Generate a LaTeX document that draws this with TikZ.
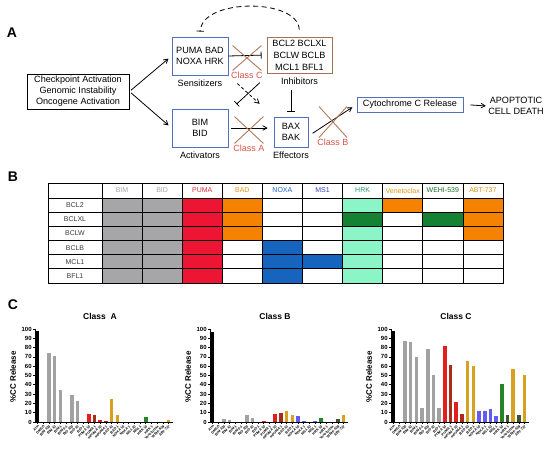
\documentclass[tikz,border=0pt]{standalone}
\usepackage{fontspec}
\setmainfont{Liberation Sans}
\usetikzlibrary{positioning}
\usetikzlibrary{arrows}
\usetikzlibrary{shapes.misc}

% %CC release values, one per treatment
\def\dataA{98,0,74,71,34,0,29,23,0,9,7,2,1,25,8,0,0,0,0,5,0,0,0,2}
\def\dataB{97,0,3,2,0,0,7,4,0,1.5,0,9,10,12,7,6,1,0,1,4,0,0,3,8}
\def\dataC{98,0,87,86,70,15,79,51,15,82,61,21,9,66,60,12,12,14,6,41,8,57,8,51}
\def\barcols{black,black,bargray,bargray,bargray,bargray,bargray,bargray,bargray,barred,bardred,barred,bardred,bargold,bargold,barblue,barblue,barblue,barblue,bargreen,barolive,bargold,barolive,bargold}
\def\barlabs{Alm,DMSO,BIM 100,BIM 10,BIM 1,BIM 0.1,BID 100,BID 10,BID 1,PUMA 10,PUMA 1,mPUMA 10,mPUMA 1,BAD 10,BAD 1,NOXA 10,NOXA 1,MS1 10,MS1 1,HRK 10,HRK 1,Venetoclax,WEHI-539,ABT-737}

\begin{document}
\begin{tikzpicture}[x=1pt,y=-1pt,>=angle 60,line width=0.8pt,
	box/.style={draw,line width=0.9pt,align=center,inner sep=0pt,
		font=\fontsize{9.1}{11}\selectfont},
	blue box/.style={box,draw=boxblue},
	lab/.style={font=\fontsize{9.1}{11}\selectfont},
	cls/.style={font=\fontsize{9}{10}\selectfont,text=classred,inner sep=1pt},
	xmark/.style={cross out,draw=crosscol,line width=0.9pt,inner sep=0pt,
		minimum width=28pt,minimum height=24pt},
	panel/.style={font=\fontsize{14}{14}\bfseries\selectfont},
	thead/.style={font=\fontsize{7}{8}\selectfont},
	trow/.style={font=\fontsize{7}{8}\selectfont,text=rowgray},
	ctitle/.style={font=\fontsize{8.5}{9}\bfseries\selectfont},
	ylab/.style={font=\fontsize{8}{9}\bfseries\selectfont,rotate=90},
	ytick/.style={font=\fontsize{6}{6}\bfseries\selectfont,anchor=east,inner sep=1pt},
	xtick/.style={font=\fontsize{3.5}{3.8}\bfseries\selectfont,anchor=north east,
		rotate=45,inner sep=0.3pt}]
	
	\definecolor{boxblue}{RGB}{84,112,188}
	\definecolor{boxbrown}{RGB}{162,112,86}
	\definecolor{crosscol}{RGB}{176,122,92}
	\definecolor{classred}{RGB}{214,82,72}
	\definecolor{tgray}{RGB}{166,166,168}
	\definecolor{tred}{RGB}{236,22,52}
	\definecolor{torange}{RGB}{245,130,0}
	\definecolor{tblue}{RGB}{22,100,190}
	\definecolor{tlgreen}{RGB}{140,245,200}
	\definecolor{tdgreen}{RGB}{20,130,50}
	\definecolor{rowgray}{RGB}{60,60,60}
	\definecolor{hgray}{RGB}{165,165,165}
	\definecolor{hred}{RGB}{220,40,60}
	\definecolor{horange}{RGB}{222,150,20}
	\definecolor{hblue}{RGB}{30,95,200}
	\definecolor{hblue2}{RGB}{55,65,180}
	\definecolor{hgreen}{RGB}{40,150,110}
	\definecolor{hdgreen}{RGB}{20,110,40}
	\definecolor{bargray}{RGB}{162,162,162}
	\definecolor{barred}{RGB}{226,30,30}
	\definecolor{bardred}{RGB}{168,45,25}
	\definecolor{bargold}{RGB}{216,160,32}
	\definecolor{barblue}{RGB}{100,92,240}
	\definecolor{bargreen}{RGB}{40,130,40}
	\definecolor{barolive}{RGB}{62,86,46}
	
	\useasboundingbox (0,0) rectangle (550,452);
	
	% A: pathway
	\node[panel] (pA) at (12,33) {A};
	\node[box, minimum width=102pt, minimum height=35pt] (chk) at (78,91.5)
		{Checkpoint Activation\\Genomic Instability\\Oncogene Activation};
	\node[blue box, minimum width=56pt, minimum height=38pt] (sens) at (200,56) {PUMA BAD\\NOXA HRK};
	\node[blue box, minimum width=56pt, minimum height=38pt] (act) at (200,128) {BIM\\BID};
	\node[box, draw=boxbrown, minimum width=65pt, minimum height=36pt,
		font=\fontsize{9.1}{12}\selectfont] (inh) at (299.5,55) {BCL2 BCLXL\\BCLW BCLB\\MCL1 BFL1};
	\node[blue box, minimum width=34pt, minimum height=30pt] (eff) at (291,132) {BAX\\BAK};
	\node[blue box, minimum width=106pt, minimum height=15pt] (cyt) at (410,104.5) {Cytochrome C Release};
	\node[lab, align=center, inner sep=1pt] (apo) at (516,106) {APOPTOTIC\\CELL DEATH};
	
	\node[lab] (senslab) [below=1pt of sens] {Sensitizers};
	\node[lab] (actlab) [below=1pt of act] {Activators};
	\node[lab] (inhlab) [below=1pt of inh] {Inhibitors};
	\node[lab] (efflab) [below=1pt of eff] {Effectors};
	
	\path[->, shorten <=2pt, shorten >=4pt]
	(chk.east) edge (sens.west)
	(chk.east) edge (act.west);
	\draw[-|, shorten >=5pt] (sens.east) -- (inh.west);
	\draw[->, shorten <=3pt, shorten >=6pt] (act.east) -- (act.east -| eff.west);
	\draw[-|, shorten <=1pt, shorten >=5pt] (inhlab.south -| eff.north) -- (eff.north);
	\draw[->, shorten <=5pt, shorten >=5pt] ([yshift=-4pt]eff.east) -- (cyt.west);
	\draw[->, shorten <=7pt, shorten >=1pt] (cyt.east) -- (apo.west);
	\draw[dash pattern=on 3pt off 2.5pt, ->, shorten <=12pt, shorten >=19pt]
		(sens.south east) -- (eff.north west);
	\draw[-|, shorten <=9pt, shorten >=11pt] ([yshift=-3pt]inh.south west) -- ([yshift=-3pt]act.north east);
	\draw[dash pattern=on 5pt off 3.5pt, -|, shorten <=7pt, shorten >=5pt]
		(inh.north) .. controls (298,-2) and (202,-2) .. (sens.north);
	
	% blocked steps
	\node[xmark] (xC) at (247,58) {};
	\node[xmark, minimum height=26pt] (xA) at (249,130) {};
	\node[xmark, minimum width=27pt, minimum height=30pt] (xB) at (333,122) {};
	\node[cls] (clsC) [below=0pt of xC] {Class C};
	\node[cls] (clsA) [below=0pt of xA] {Class A};
	\node[cls] (clsB) [below=0pt of xB] {Class B};
	
	% B: binding table
	\node[panel] (pB) at (13,177) {B};
	\foreach \fl [count=\c from 0] in {
		{tgray,tgray,tgray,tgray,tgray,tgray},
		{tgray,tgray,tgray,tgray,tgray,tgray},
		{tred,tred,tred,tred,tred,tred},
		{torange,torange,torange,white,white,white},
		{white,white,white,tblue,tblue,tblue},
		{white,white,white,white,tblue,white},
		{tlgreen,tdgreen,tlgreen,tlgreen,tlgreen,tlgreen},
		{torange,white,white,white,white,white},
		{white,tdgreen,white,white,white,white},
		{torange,torange,torange,white,white,white}}
	\foreach \f [count=\r from 0] in \fl
	\fill[\f] ({102+\c*40.1},{198+\r*14.17}) rectangle ++(40.1,14.17);
	
	\draw[line width=0.9pt] (48,183) rectangle (503,283);
	\foreach \c in {0,...,9}
	\draw ({102+\c*40.1},183) -- ({102+\c*40.1},283);
	\foreach \r in {0,...,5}
	\draw (48,{198+\r*14.17}) -- (503,{198+\r*14.17});
	
	\foreach \name/\hc [count=\c from 0] in {BIM/hgray,BID/hgray,PUMA/hred,BAD/horange,NOXA/hblue,
		MS1/hblue2,HRK/hgreen,Venetoclax/horange,WEHI-539/hdgreen,ABT-737/horange}
	\node[thead, text=\hc] (h\c) at ({122+\c*40.1},190.5) {\name};
	\foreach \name [count=\r from 0] in {BCL2,BCLXL,BCLW,BCLB,MCL1,BFL1}
	\node[trow] (r\r) at (75,{205.1+\r*14.17}) {\name};
	
	% C: bar charts
	\node[panel] (pC) at (13,305) {C};
	\foreach \cx/\ttl/\dat in {35/{Class\ \ A}/\dataA,210/{Class B}/\dataB,391/{Class C}/\dataC} {
		\node[ctitle] (t\cx) at (\cx+65,316) {\ttl};
		\node[ylab] (y\cx) at (\cx-22,377) {\%CC Release};
		\foreach \c [count=\i from 0] in \barcols {
			\pgfmathsetmacro\v{{\dat}[\i]}
			\fill[\c] ({\cx+0.7+\i*5.7},422) rectangle ++(3.6,{-0.93*\v});
		}
		\draw (\cx,329) -- (\cx,422) -- (\cx+138,422);
		\foreach \t in {0,10,...,100}
		\draw (\cx,{422-0.93*\t}) -- ++(-2,0) node[ytick] {\t};
		\foreach \lab [count=\i from 0] in \barlabs
		\draw ({\cx+2.5+\i*5.7},422) -- ++(0,2) node[xtick] {\lab};
	}
\end{tikzpicture}
\end{document}
